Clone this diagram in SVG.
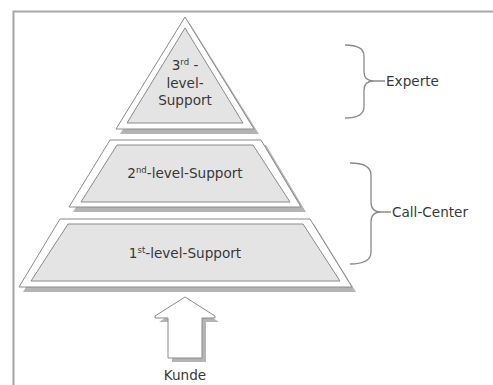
<svg xmlns="http://www.w3.org/2000/svg" width="493" height="385" viewBox="0 0 493 385">
  <style>
    .frame { fill: none; stroke: #a6a6a6; stroke-width: 2; }
    .shadow { fill: #b4b4b4; stroke: none; }
    .outer { fill: #ffffff; stroke: #8a8a8a; stroke-width: 1; }
    .inner { fill: #e4e4e4; stroke: #8a8a8a; stroke-width: 1; }
    .brace { fill: none; stroke: #8a8a8a; stroke-width: 1.3; }
    text { font-family: "DejaVu Sans", Verdana, sans-serif; font-size: 13.6px; fill: #383838; }
    .c { text-anchor: middle; }
    .sup { font-size: 8.5px; }
  </style>

  <!-- page frame -->
  <path class="frame" d="M13.5,385 V11.5 H493"/>

  <!-- top level: experts -->
  <g id="level3">
    <polygon class="shadow" points="189,22 259,134 120,134"/>
    <polygon class="outer" points="185,17 254,129 116,129"/>
    <polygon class="inner" points="185,28 243,123 127,123"/>
    <text class="c" x="185" y="70">3<tspan class="sup" dy="-5">rd</tspan><tspan dy="5"> -</tspan></text>
    <text class="c" x="185" y="88">level-</text>
    <text class="c" x="185" y="105">Support</text>
  </g>

  <!-- middle level -->
  <g id="level2">
    <polygon class="shadow" points="114,145 266,145 306,212 73,212"/>
    <polygon class="outer" points="110,140 261,140 301,207 69,207"/>
    <polygon class="inner" points="117,145 253,145 290,202 81,202"/>
    <text class="c" x="185" y="178">2<tspan class="sup" dy="-5">nd</tspan><tspan dy="5">-level-Support</tspan></text>
  </g>

  <!-- bottom level -->
  <g id="level1">
    <polygon class="shadow" points="64,224 314,224 356,292 23,292"/>
    <polygon class="outer" points="60,219 310,219 352,287 19,287"/>
    <polygon class="inner" points="68,224 303,224 340,281 31,281"/>
    <text class="c" x="185" y="258">1<tspan class="sup" dy="-5">st</tspan><tspan dy="5">-level-Support</tspan></text>
  </g>

  <!-- customer entry arrow -->
  <g id="customer">
    <polygon class="shadow" points="189,302 219,322 206,322 206,362 172,362 172,322 159,322"/>
    <polygon class="outer" points="185,297 215,316 215,318 202,318 202,358 168,358 168,318 155,318 155,316"/>
    <text class="c" x="185" y="380">Kunde</text>
  </g>

  <!-- brace labels -->
  <g id="connectors">
    <path class="brace" d="M345,45 Q364,45 364,56 V72 Q364,81 374,81 H385 M374,81 Q364,81 364,90 V107 Q364,118 345,118"/>
    <path class="brace" d="M350,163 Q371,163 371,175 V202 Q371,212 381,212 H391 M381,212 Q371,212 371,222 V252 Q371,264 350,264"/>
  </g>

  <g id="expert-label">
    <text x="386" y="86">Experte</text>
  </g>
  <g id="callcenter-label">
    <text x="392" y="217">Call-Center</text>
  </g>
</svg>
